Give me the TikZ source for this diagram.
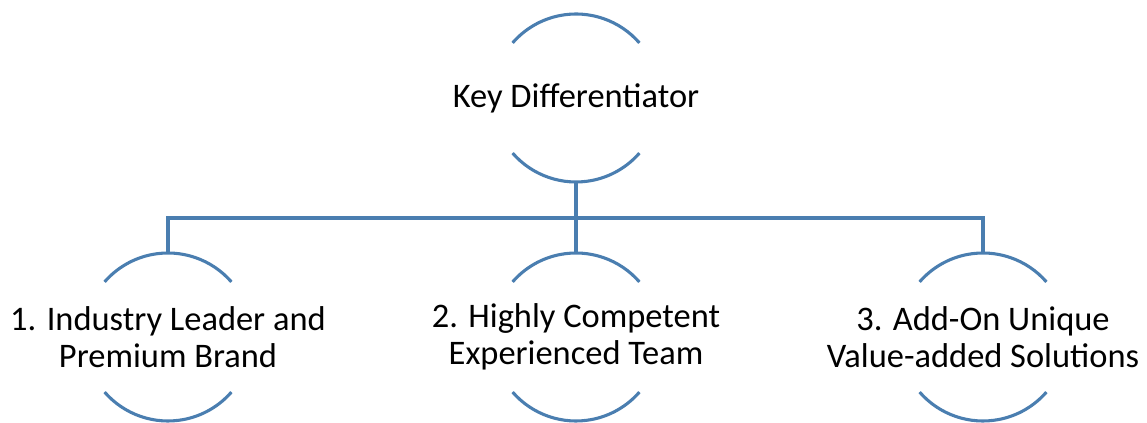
\documentclass[tikz,border=0pt]{standalone}
\usepackage{fontspec}
\setmainfont{Carlito}
\usepackage{tikz}

\definecolor{ringblue}{HTML}{4A7EB0}

\tikzset{
	ring/.style={circle, minimum size=4.2cm, inner sep=0pt, outer sep=0pt},
	arcline/.style={draw=ringblue, line width=2.2pt},
	conn/.style={draw=ringblue, line width=2.2pt},
	caption/.style={align=center, font=\fontsize{24.5}{26.5}\selectfont}
}

\newcommand{\ringarcs}[1]{%
	\draw[arcline] (#1.41) arc[start angle=41, end angle=139, radius=2.1cm];
	\draw[arcline] (#1.221) arc[start angle=221, end angle=319, radius=2.1cm];
}

\begin{document}
\begin{tikzpicture}
\useasboundingbox (0,0) rectangle (28.675,10.575);

	\node[ring] (keyring) at (14.4,8.125) {};
	\node[ring] (leadring) at (4.2,2.15) {};
	\node[ring] (teamring) at (14.4,2.15) {};
	\node[ring] (valring) at (24.575,2.15) {};

	\node[caption] (key) at (keyring.center) {Key Differentiator};
	\node[caption] (lead) at (leadring.center) {1. Industry Leader and\\Premium Brand};
	\node[caption] (team) at (teamring.center) {2. Highly Competent\\Experienced Team};
	\node[caption] (val) at (valring.center) {3. Add-On Unique\\Value-added Solutions};

	\ringarcs{keyring}
	\ringarcs{leadring}
	\ringarcs{teamring}
	\ringarcs{valring}

	\draw[conn] (keyring.south) -- ++(0,-0.9) -| (leadring.north);
	\draw[conn] (keyring.south) -- ++(0,-0.9) -| (valring.north);
	\draw[conn] (keyring.south) -- (teamring.north);
\end{tikzpicture}
\end{document}
